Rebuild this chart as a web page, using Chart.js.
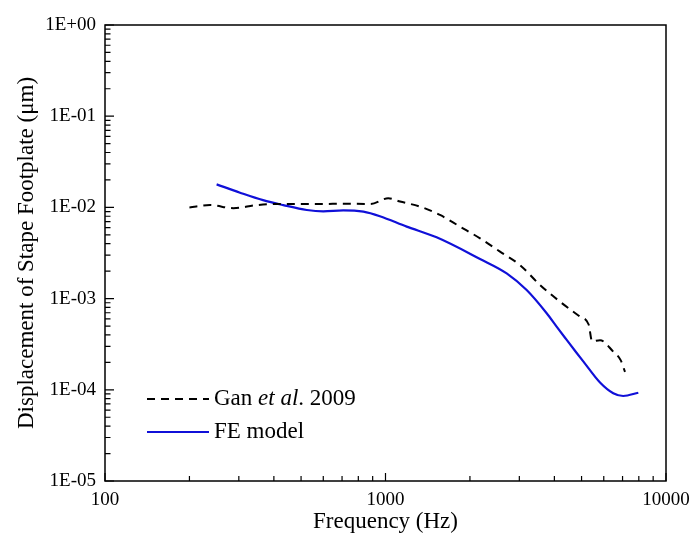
<!DOCTYPE html>
<html>
<head>
<meta charset="utf-8">
<script src="https://cdn.jsdelivr.net/npm/chart.js@4"></script>
<style>
  html, body { margin: 0; padding: 0; background: #fff; }
  #wrap { width: 690px; height: 540px; }
</style>
</head>
<body>
<div id="wrap"><canvas id="myChart"></canvas></div>
<script>
// Gan et al. 2009 (measured)
var ganFreq = [200, 237, 287, 347, 409, 500, 600, 700, 883, 1023, 1127, 1328, 1564, 1844, 2173, 2560, 3017, 3555, 4190, 4937, 5300, 5450, 5818, 6486, 6900, 7144];
var ganDisp = [0.0100, 0.0106, 0.0098, 0.0106, 0.0109, 0.0109, 0.0109, 0.0110, 0.0109, 0.0126, 0.0116, 0.0102, 0.00826, 0.00615, 0.00458, 0.00327, 0.00233, 0.00141, 0.000925, 0.000634, 0.00052, 0.00034, 0.00035, 0.000262, 0.00021, 0.000157];

// FE model
var feFreq = [250, 303, 366, 432, 524, 600, 707, 834, 955, 1190, 1521, 2173, 2704, 3186, 3755, 4074, 4426, 4797, 5070, 5818, 6486, 7040, 7967];
var feDisp = [0.0179, 0.0145, 0.0120, 0.0106, 0.00937, 0.00906, 0.00929, 0.00897, 0.0080, 0.00615, 0.0047, 0.00272, 0.00189, 0.00124, 0.00069, 0.000492, 0.000352, 0.000255, 0.000205, 0.000120, 0.0000915, 0.0000855, 0.0000929];

var xTicks = [100, 1000, 10000];
var yTicks = [1e-5, 1e-4, 1e-3, 1e-2, 1e-1, 1];

var serif = "'Liberation Serif', 'DejaVu Serif', serif";

function pts(xs, ys) {
    return xs.map(function(x, i) { return {x: x, y: ys[i]}; });
}

// frame, inward ticks and legend
var decor = {
    id: 'decor',
    afterDraw: function(chart) {
        var ctx = chart.ctx, a = chart.chartArea;
        var xs = chart.scales.x, ys = chart.scales.y;
        ctx.save();
        ctx.strokeStyle = '#000';
        ctx.lineWidth = 1.5;
        ctx.strokeRect(a.left, a.top, a.right - a.left, a.bottom - a.top);

        ctx.lineWidth = 1.2;
        ctx.beginPath();
        for (var e = -5; e <= 0; e++) {
            for (var m = 1; m <= 9; m++) {
                var v = m * Math.pow(10, e);
                if (v > 1) break;
                var py = ys.getPixelForValue(v);
                var len = m === 1 ? 9 : 5.5;
                ctx.moveTo(a.left, py);
                ctx.lineTo(a.left + len, py);
            }
        }
        for (var e2 = 2; e2 <= 4; e2++) {
            for (var m2 = 1; m2 <= 9; m2++) {
                var v2 = m2 * Math.pow(10, e2);
                if (v2 > 10000) break;
                var px = xs.getPixelForValue(v2);
                var len2 = m2 === 1 ? 8 : 5;
                ctx.moveTo(px, a.bottom);
                ctx.lineTo(px, a.bottom - len2);
            }
        }
        ctx.stroke();

        // legend
        var lx = a.left + 42, lw = 62;
        var ly1 = a.bottom - 82, ly2 = a.bottom - 49;
        ctx.lineWidth = 2;
        ctx.strokeStyle = '#000';
        ctx.setLineDash([8, 6]);
        ctx.beginPath();
        ctx.moveTo(lx, ly1);
        ctx.lineTo(lx + lw, ly1);
        ctx.stroke();
        ctx.setLineDash([]);
        ctx.strokeStyle = '#1010d8';
        ctx.beginPath();
        ctx.moveTo(lx, ly2);
        ctx.lineTo(lx + lw, ly2);
        ctx.stroke();

        ctx.fillStyle = '#000';
        ctx.textBaseline = 'middle';
        ctx.textAlign = 'left';
        var tx = lx + lw + 5;
        ctx.font = "23px " + serif;
        ctx.fillText('Gan ', tx, ly1);
        tx += ctx.measureText('Gan ').width;
        ctx.font = "italic 23px " + serif;
        ctx.fillText('et al', tx, ly1);
        tx += ctx.measureText('et al').width;
        ctx.font = "23px " + serif;
        ctx.fillText('. 2009', tx, ly1);
        ctx.fillText('FE model', lx + lw + 5, ly2);
        ctx.restore();
    }
};

var ctx = document.getElementById('myChart');

var myChart = new Chart(ctx, {
    type: 'line',
    data: {
        datasets: [
            {
                label: 'Gan et al. 2009',
                data: pts(ganFreq, ganDisp),
                borderColor: '#000',
                borderWidth: 2,
                borderDash: [8, 6],
                pointRadius: 0,
                fill: false,
                cubicInterpolationMode: 'monotone'
            },
            {
                label: 'FE model',
                data: pts(feFreq, feDisp),
                borderColor: '#1010d8',
                borderWidth: 2.2,
                pointRadius: 0,
                fill: false,
                cubicInterpolationMode: 'monotone'
            }
        ]
    },
    options: {
        responsive: true,
        maintainAspectRatio: false,
        animation: false,
        layout: { padding: { top: 25, right: 24, left: 0, bottom: 0 } },
        plugins: {
            legend: { display: false },
            tooltip: { enabled: false }
        },
        scales: {
            x: {
                type: 'logarithmic',
                min: 100,
                max: 10000,
                afterBuildTicks: function(scale) {
                    scale.ticks = xTicks.map(function(v) { return {value: v}; });
                },
                afterFit: function(scale) {
                    scale.height = 59;
                    scale.paddingLeft = 0;
                    scale.paddingRight = 0;
                },
                grid: { display: false, drawTicks: false },
                border: { display: false },
                ticks: {
                    color: '#000',
                    padding: 8,
                    maxRotation: 0,
                    font: { family: serif, size: 19 },
                    callback: function(v) { return String(v); }
                },
                title: {
                    display: true,
                    text: 'Frequency (Hz)',
                    color: '#000',
                    font: { family: serif, size: 23 },
                    padding: { top: 0, bottom: 4 }
                }
            },
            y: {
                type: 'logarithmic',
                min: 1e-5,
                max: 1,
                afterBuildTicks: function(scale) {
                    scale.ticks = yTicks.map(function(v) { return {value: v}; });
                },
                afterFit: function(scale) {
                    scale.width = 105;
                    scale.paddingTop = 0;
                    scale.paddingBottom = 0;
                },
                grid: { display: false, drawTicks: false },
                border: { display: false },
                ticks: {
                    color: '#000',
                    padding: 9,
                    font: { family: serif, size: 19 },
                    callback: function(v) {
                        var e = Math.round(Math.log10(v));
                        var s = Math.abs(e) < 10 ? '0' + Math.abs(e) : String(Math.abs(e));
                        return '1E' + (e >= 0 ? '+' : '-') + s;
                    }
                },
                title: {
                    display: true,
                    text: 'Displacement of Stape Footplate (μm)',
                    color: '#000',
                    font: { family: serif, size: 23 },
                    padding: { top: 13, bottom: 0 }
                }
            }
        }
    },
    plugins: [decor]
});
</script>
</body>
</html>
